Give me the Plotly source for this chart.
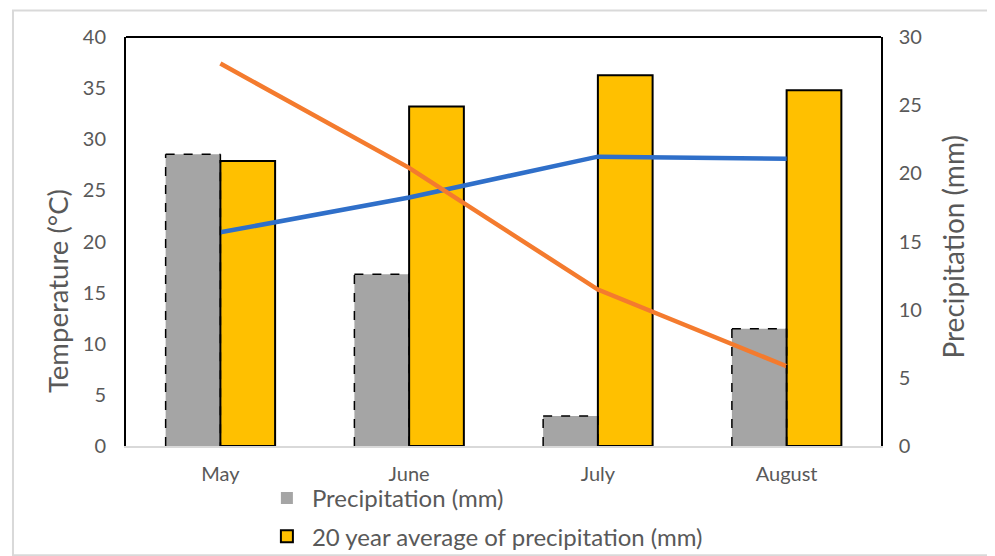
import plotly.graph_objects as go

months = ["May", "June", "July", "August"]
precip = [21.4, 12.6, 2.2, 8.6]
precip_avg20 = [20.9, 24.9, 27.2, 26.1]
temp_blue = [20.9, 24.3, 28.3, 28.1]
temp_orange = [37.4, 27.2, 15.3, 7.8]

left_ticks = list(range(0, 41, 5))
right_ticks = list(range(0, 31, 5))

BAR_W = 0.29
FONT = "Lato, Open Sans, sans-serif"
TXT = "#595959"

fig = go.Figure()
fig.add_trace(go.Bar(
    x=months, y=precip, name="Precipitation (mm)", legendgroup="a",
    width=BAR_W, offset=-BAR_W,
    marker=dict(color="#A5A5A5", line=dict(width=0)),
    yaxis="y",
))
fig.add_trace(go.Bar(
    x=months, y=precip_avg20, name="20 year average of precipitation (mm)", legendgroup="b",
    width=BAR_W, offset=0,
    marker=dict(color="#FFC000", line=dict(color="black", width=2)),
    yaxis="y",
))
fig.add_trace(go.Scatter(
    x=months, y=temp_blue, mode="lines", showlegend=False,
    line=dict(color="#2F6FC9", width=4.5), yaxis="y2",
))
fig.add_trace(go.Scatter(
    x=months, y=temp_orange, mode="lines", showlegend=False,
    line=dict(color="#F47B2E", width=4.5), yaxis="y2",
))

shapes = []
# dashed outline of precipitation bars, derived from data
for i, v in enumerate(precip):
    x0, x1 = i - BAR_W, i
    for (a, b, c, d) in [(x0, 0, x0, v), (x0, v, x1, v), (x1, v, x1, 0)]:
        shapes.append(dict(type="line", xref="x", yref="y", x0=a, y0=b, x1=c, y1=d,
                           line=dict(color="black", width=1.5, dash="dash"), layer="above"))
# top border of plot area
shapes.append(dict(type="line", xref="paper", yref="paper", x0=0, x1=1, y0=1, y1=1,
                   line=dict(color="black", width=2)))
# outer chart frame
shapes.append(dict(type="rect", xref="paper", yref="paper", x0=-0.1497, x1=1.3, y0=-0.267, y1=1.065,
                   line=dict(color="#D9D9D9", width=2), layer="below"))
fig.update_layout(shapes=shapes)

annotations = [
    dict(text="Temperature (°C)", xref="paper", yref="paper", x=-0.09, y=0.379,
         textangle=-90, showarrow=False, xanchor="center", yanchor="middle",
         font=dict(size=27.5, color=TXT, family=FONT)),
    dict(text="Precipitation (mm)", xref="paper", yref="paper", x=1.095, y=0.487,
         textangle=-90, showarrow=False, xanchor="center", yanchor="middle",
         font=dict(size=28, color=TXT, family=FONT)),
]

fig.update_layout(
    width=987, height=548,
    margin=dict(l=118, r=114, t=29, b=110, autoexpand=False),
    paper_bgcolor="white", plot_bgcolor="white",
    font=dict(family=FONT, color=TXT, size=18),
    barmode="overlay",
    annotations=annotations,
    xaxis=dict(type="category", showline=True, linecolor="#D9D9D9", linewidth=1.5,
               showgrid=False, ticks="", tickfont=dict(size=20, color=TXT),
               ticklabelstandoff=9, range=[-0.5, 3.5], automargin=False),
    yaxis=dict(side="right", range=[0, 30], tickvals=right_ticks, showgrid=False,
               showline=True, linecolor="black", linewidth=1.5, zeroline=False,
               ticks="", ticklabelstandoff=12, tickfont=dict(size=20, color=TXT),
               automargin=False),
    yaxis2=dict(side="left", overlaying="y", range=[0, 40], tickvals=left_ticks, showgrid=False,
                showline=True, linecolor="black", linewidth=2, zeroline=False,
                ticks="", ticklabelstandoff=14, tickfont=dict(size=20, color=TXT),
                automargin=False),
    legend=dict(x=0.18, y=-0.073, xanchor="left", yanchor="top", orientation="v",
                font=dict(size=24, color=TXT), bgcolor="rgba(0,0,0,0)", tracegroupgap=4,
                itemwidth=40),
)

fig.write_html("out.html")
